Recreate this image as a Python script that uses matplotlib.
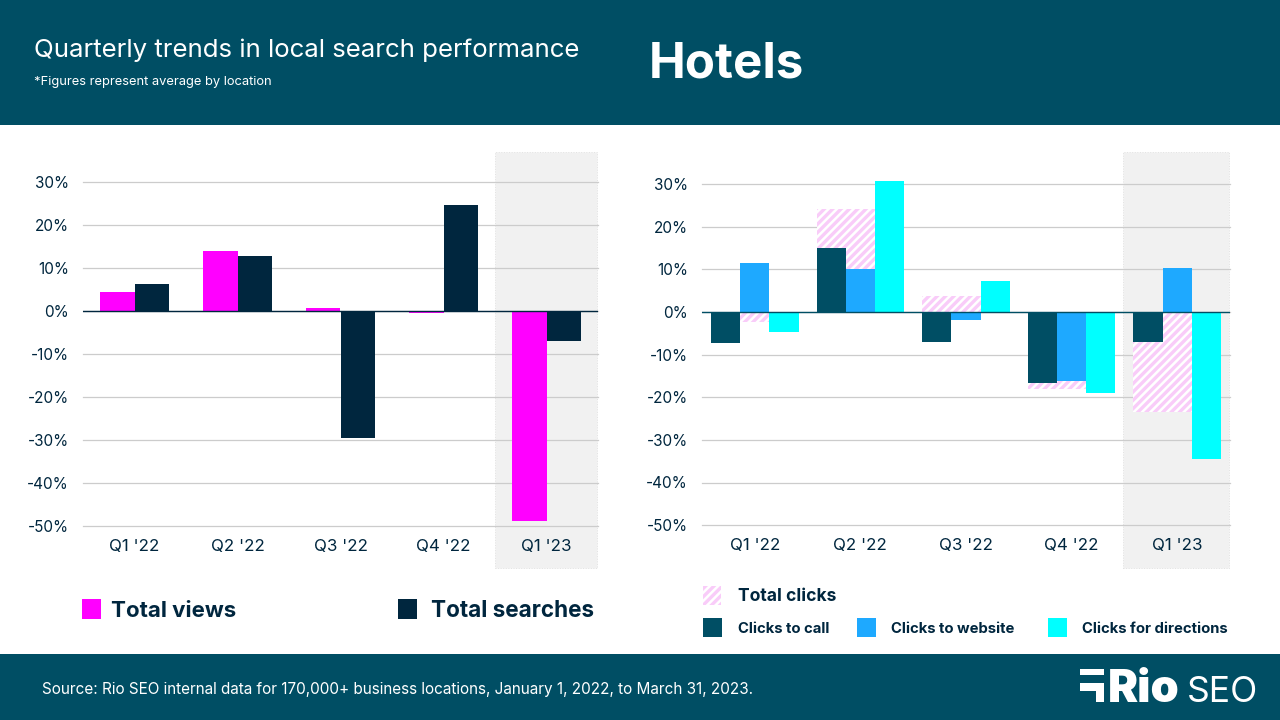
import matplotlib
matplotlib.use('Agg')
import matplotlib.pyplot as plt
from matplotlib.patches import Rectangle

# values
quarters = ["Q1 '22", "Q2 '22", "Q3 '22", "Q4 '22", "Q1 '23"]
total_views = [4.5, 14.1, 0.8, -0.5, -49]
total_searches = [6.4, 12.9, -29.5, 24.8, -7]
total_clicks = [-2.4, 24.2, 3.8, -18, -23.5]
clicks_call = [-7.2, 15, -7, -16.7, -7]
clicks_website = [11.6, 10.2, -1.8, -16.2, 10.4]
clicks_directions = [-4.6, 30.8, 7.3, -19, -34.4]
y_ticks = [30, 20, 10, 0, -10, -20, -30, -40, -50]

TEAL = '#004E64'
NAVY = '#00263E'
MAGENTA = '#FF00FF'
BLUE = '#1EA9FF'
CYAN = '#00FFFF'
PINK = '#F9CCF9'
BAND = '#F1F1F1'
GRID = '#CCCCCC'

W, H = 1280, 720
plt.rcParams['font.family'] = ['Inter', 'DejaVu Sans']
plt.rcParams['hatch.linewidth'] = 2.4
plt.rcParams['hatch.color'] = PINK

fig = plt.figure(figsize=(12.8, 7.2), dpi=100, facecolor='white')


def px_rect(x0, y0, x1, y1, **kw):
    # rectangle in picture pixels, y going down
    fig.add_artist(Rectangle((x0 / W, 1 - y1 / H), (x1 - x0) / W, (y1 - y0) / H,
                             transform=fig.transFigure, lw=0, **kw))


def px_text(x, y, s, **kw):
    fig.text(x / W, 1 - y / H, s, **kw)


def make_axes(x0, x1, y_zero, px_per_pct, band_top, band_bottom, band_x):
    y_bottom = y_zero + 50 * px_per_pct
    ax = fig.add_axes([x0 / W, 1 - y_bottom / H, (x1 - x0) / W, (y_bottom - band_top) / H])
    ax.set_xlim(-0.5, 4.5)
    ax.set_ylim(-50, (y_zero - band_top) / px_per_pct)
    ax.patch.set_visible(False)
    for s in ax.spines.values():
        s.set_visible(False)
    # grey band behind the latest quarter, runs past the axes bottom
    low = -(band_bottom - y_zero) / px_per_pct
    high = (y_zero - band_top) / px_per_pct
    ax.add_patch(Rectangle((band_x[0], low), band_x[1] - band_x[0], high - low, facecolor=BAND,
                           edgecolor='#E2E2E2', lw=0.7, ls=':', clip_on=False, zorder=0))
    ax.set_yticks(y_ticks)
    ax.set_yticklabels([f'{v}%' for v in y_ticks])
    ax.set_xticks(range(5))
    ax.set_xticklabels(quarters)
    ax.tick_params(axis='x', length=0, labelsize=12.2, labelcolor=NAVY, pad=9.5)
    ax.tick_params(axis='y', length=0, labelsize=11, labelcolor=NAVY, pad=10)
    ax.grid(axis='y', color=GRID, lw=0.9, zorder=1)
    for line in ax.get_ygridlines():
        line.set_clip_on(False)
    ax.set_axisbelow(True)
    return ax


# header and footer
px_rect(0, 0, W, 125, facecolor=TEAL)
px_rect(0, 654, W, H, facecolor=TEAL)
px_text(34, 57, 'Quarterly trends in local search performance', color='white', fontsize=18.6,
        va='baseline')
px_text(34, 85, '*Figures represent average by location', color='white', fontsize=9.3, va='baseline')
px_text(649, 77, 'Hotels', color='white', fontsize=35.4, fontweight='bold', va='baseline')
px_text(42, 694, 'Source: Rio SEO internal data for 170,000+ business locations, January 1, 2022, to March 31, 2023.',
        color='white', fontsize=11, va='baseline')

# left chart
ax1 = make_axes(83, 598, 311, 4.29, 152, 568, (3.5, 4.49))
w = 1 / 3
xs = range(5)
ax1.bar([x - w / 2 for x in xs], total_views, w, color=MAGENTA, zorder=3)
ax1.bar([x + w / 2 for x in xs], total_searches, w, color=NAVY, zorder=3)
ax1.axhline(0, color=NAVY, lw=1, zorder=4)

# right chart, total clicks is hatched behind the cluster
ax2 = make_axes(702, 1230, 312, 4.2625, 152, 568, (3.485, 4.49))
w = 0.277
ax2.bar(list(xs), total_clicks, 3 * w, facecolor='white', edgecolor=PINK, hatch='////', lw=0, zorder=2)
ax2.bar([x - w for x in xs], clicks_call, w, color=TEAL, zorder=3)
ax2.bar(list(xs), clicks_website, w, color=BLUE, zorder=3)
ax2.bar([x + w for x in xs], clicks_directions, w, color=CYAN, zorder=3)
ax2.axhline(0, color=TEAL, lw=1, zorder=4)

# legends drawn by hand so they sit where the original has them
px_rect(82, 599, 101, 619, facecolor=MAGENTA)
px_text(111, 617, 'Total views', color=NAVY, fontsize=16, fontweight='bold', va='baseline')
px_rect(398, 599, 417, 619, facecolor=NAVY)
px_text(431, 617, 'Total searches', color=NAVY, fontsize=16.2, fontweight='bold', va='baseline')

fig.add_artist(Rectangle((703 / W, 1 - 605 / H), 18 / W, 19 / H, transform=fig.transFigure,
                         facecolor='white', edgecolor=PINK, hatch='////', lw=0))
px_text(738, 601, 'Total clicks', color=NAVY, fontsize=12.6, fontweight='bold', va='baseline')
px_rect(703, 618, 722, 637, facecolor=TEAL)
px_text(738, 633, 'Clicks to call', color=NAVY, fontsize=10.7, fontweight='bold', va='baseline')
px_rect(857, 618, 876, 637, facecolor=BLUE)
px_text(891, 633, 'Clicks to website', color=NAVY, fontsize=10.7, fontweight='bold', va='baseline')
px_rect(1048, 618, 1067, 637, facecolor=CYAN)
px_text(1082, 633, 'Clicks for directions', color=NAVY, fontsize=10.7, fontweight='bold', va='baseline')

# logo
px_rect(1080, 669, 1104, 675, facecolor='white')
px_rect(1080, 683, 1104, 691, facecolor='white')
px_rect(1096, 683, 1104, 702, facecolor='white')
px_text(1108, 702, 'Rio', color='white', fontsize=32.5, fontweight='black', va='baseline')
px_text(1187, 702, 'SEO', color='white', fontsize=25.5, va='baseline')

fig.savefig('out.png', dpi=100)
